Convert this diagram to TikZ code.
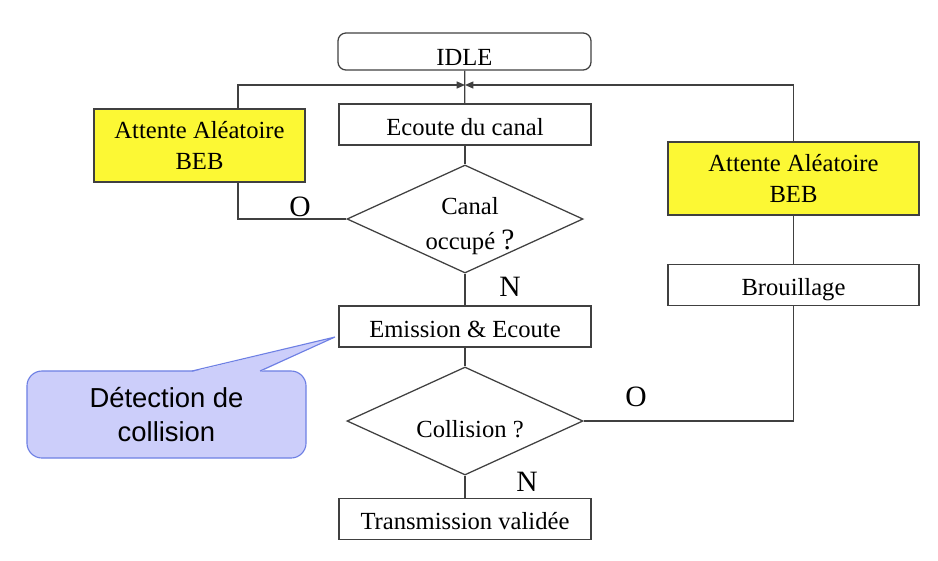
\documentclass[tikz,border=0pt]{standalone}
\usepackage{fontspec}
\setmainfont{Liberation Serif}
\setsansfont{Liberation Sans}
\usetikzlibrary{shapes.geometric,arrows.meta}
\definecolor{beb}{RGB}{252,248,52}
\definecolor{bulle}{RGB}{204,206,250}
\definecolor{bullebord}{RGB}{110,128,228}
\begin{document}
\begin{tikzpicture}[x=0.025cm, y=-0.025cm,
    trait/.style={draw=black!75, line width=0.9pt},
    boite/.style={trait, rectangle, minimum width=6.3cm, minimum height=1.03cm, inner sep=0pt, align=center, font=\fontsize{17.5}{22}\selectfont},
    ligne/.style={boite, text height=15pt, text depth=0pt},
    attente/.style={boite, fill=beb, minimum height=1.825cm},
    test/.style={trait, diamond, minimum width=5.9cm, minimum height=2.7cm, inner sep=0pt},
    texte/.style={align=center, inner sep=0pt, font=\fontsize{17.5}{25}\selectfont},
    reponse/.style={font=\fontsize{21}{25}\selectfont, inner sep=0pt},
    fleche/.style={trait, -{Triangle[length=6pt, width=5pt]}}]
    \useasboundingbox (0,0) rectangle (938,560);

    \node[ligne, rounded corners=0.2cm, minimum width=6.325cm, minimum height=0.925cm, text height=20pt] (idle) at (464.5,51.5) {IDLE};
    \node[ligne] (ecoute) at (465,124.5) {Ecoute du canal};
    \node[test] (canal) at (465,219) {};
    \node[texte] (canaltxt) at (470,226) {Canal\\occup\'e {\fontsize{21}{25}\selectfont ?}};
    \node[ligne] (emission) at (465,326.5) {Emission \& Ecoute};
    \node[test] (collision) at (465,421) {};
    \node[texte] (collisiontxt) at (470,429) {Collision ?};
    \node[ligne] (transmission) at (465,519) {Transmission valid\'ee};

    \node[attente, minimum width=5.275cm] (attente1) at (199.5,145.5) {Attente Al\'eatoire\\BEB};
    \node[attente, minimum width=6.275cm] (attente2) at (793.5,178.5) {Attente Al\'eatoire\\BEB};
    \node[ligne, minimum width=6.275cm] (brouillage) at (793.5,285) {Brouillage};

    \coordinate (retour) at (465,85);
    \coordinate (gauche) at (238,85);

    \node[reponse] (o1) at (300,207) {O};
    \node[reponse] (n1) at (510,287) {N};
    \node[reponse] (o2) at (636,397) {O};
    \node[reponse] (n2) at (527,482) {N};

    % liaisons
    \draw[trait] (idle) -- (ecoute);
    \draw[trait] (ecoute) -- (canal);
    \draw[trait] (canal) -- (emission);
    \draw[trait] (emission) -- (collision);
    \draw[trait] (collision) -- (transmission);
    \draw[trait] (canal.west) -| (attente1.south -| gauche);
    \draw[fleche] (attente1.north -| gauche) |- (retour);
    \draw[trait] (collision.east) -| (brouillage.south);
    \draw[trait] (brouillage) -- (attente2);
    \draw[fleche] (attente2.north) |- (retour);

    % bulle
    \coordinate (pointe) at (335,337);
    \node[draw=bullebord, fill=bulle, line width=0.8pt, rounded corners=0.375cm, minimum width=6.975cm, minimum height=2.175cm, align=center, font=\sffamily\fontsize{19.5}{24}\selectfont] (bulle) at (166.5,414.5) {D\'etection de\\collision};
    \fill[bulle] (192,372) -- (pointe) -- (260,372) -- cycle;
    \draw[draw=bullebord, line width=0.8pt] (192,371) -- (pointe) -- (260,371);
\end{tikzpicture}
\end{document}
